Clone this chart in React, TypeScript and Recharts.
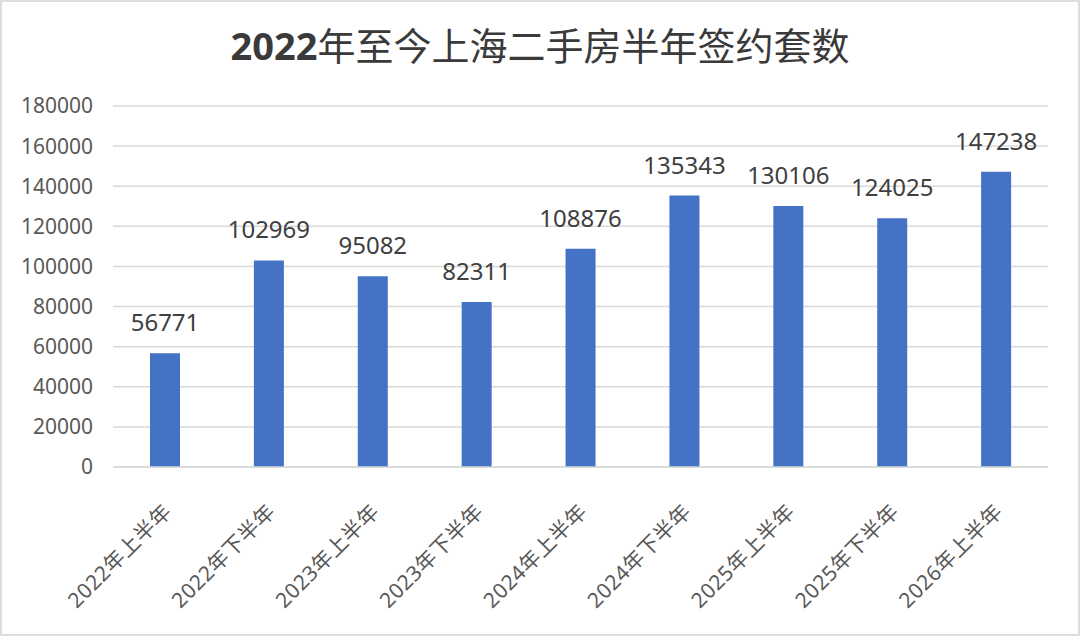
import React from 'react';
import { BarChart, Bar, XAxis, YAxis, CartesianGrid, LabelList } from 'recharts';

const categories = [
  '2022年上半年',
  '2022年下半年',
  '2023年上半年',
  '2023年下半年',
  '2024年上半年',
  '2024年下半年',
  '2025年上半年',
  '2025年下半年',
  '2026年上半年',
];
const deals = [56771, 102969, 95082, 82311, 108876, 135343, 130106, 124025, 147238];
const yTicks = [0, 20000, 40000, 60000, 80000, 100000, 120000, 140000, 160000, 180000];

const data = categories.map((name, i) => ({ name, value: deals[i] }));

const FONT = '"Noto Sans", "Noto Sans CJK SC", sans-serif';

// rotated category label, anchored at its end near the bar
const AngledTick = (props: any) => {
  const { x, y, payload } = props;
  return (
    <g transform={`translate(${x + 8},${y + 44})`}>
      <text
        textAnchor="end"
        transform="rotate(-45)"
        fill="#595959"
        fontSize={21}
        fontFamily={FONT}
        letterSpacing={0.5}
      >
        {payload.value}
      </text>
    </g>
  );
};

export default function App() {
  return (
    <div style={{ position: 'absolute', top: 0, left: 0, width: 1080, height: 636, background: '#fff' }}>
      <div
        style={{
          position: 'absolute',
          top: 19,
          left: 0,
          width: 1080,
          textAlign: 'center',
          fontSize: 38,
          lineHeight: '50px',
          color: '#3a3a3a',
          fontFamily: '"Noto Sans CJK SC", sans-serif',
        }}
      >
        <span style={{ fontWeight: 'bold', fontFamily: '"Noto Sans", sans-serif' }}>2022</span>
        年至今上海二手房半年签约套数
      </div>
      <BarChart
        width={1080}
        height={636}
        data={data}
        margin={{ top: 106, right: 32, bottom: 0, left: 0 }}
      >
        <CartesianGrid vertical={false} stroke="#d9d9d9" strokeWidth={1.5} />
        <XAxis
          dataKey="name"
          height={169}
          tickLine={false}
          tickSize={0}
          axisLine={{ stroke: '#d9d9d9', strokeWidth: 1.5 }}
          tick={<AngledTick />}
          interval={0}
        />
        <YAxis
          width={113}
          domain={[0, 180000]}
          ticks={yTicks}
          axisLine={false}
          tickLine={false}
          tickSize={0}
          tickMargin={20}
          tick={{ fill: '#595959', fontSize: 21, fontFamily: FONT }}
        />
        <Bar dataKey="value" fill="#4472C4" barSize={30} isAnimationActive={false}>
          <LabelList
            dataKey="value"
            position="top"
            offset={22}
            fill="#404040"
            fontSize={24}
            fontFamily={FONT}
          />
        </Bar>
      </BarChart>
      <div
        style={{
          position: 'absolute',
          inset: 0,
          border: '2px solid #dedede',
          pointerEvents: 'none',
        }}
      />
    </div>
  );
}
